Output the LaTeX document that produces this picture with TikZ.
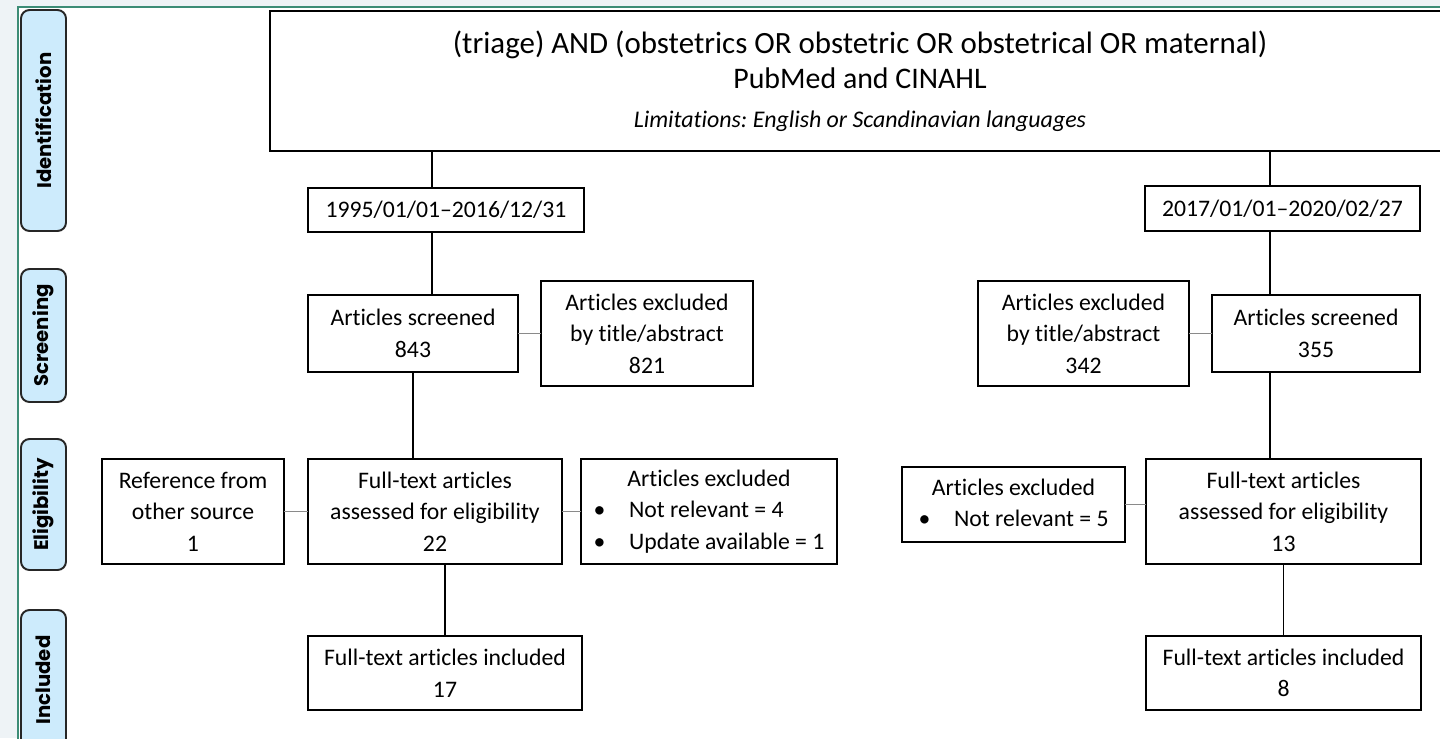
\documentclass[tikz,border=0pt]{standalone}
\usepackage{fontspec}
\setmainfont{Carlito}[Ligatures={TeX,NoCommon}]
\newfontfamily\stagefont{Poppins}
\usetikzlibrary{positioning,calc}
\definecolor{panelgray}{HTML}{EEF3F6}
\definecolor{stageblue}{HTML}{CDEBFC}
\definecolor{framegreen}{HTML}{3C8C76}
\definecolor{linkgray}{HTML}{8A8A8A}
\frenchspacing

\begin{document}
\begin{tikzpicture}[x=0.02cm,y=-0.02cm,outer sep=0pt,inner sep=2pt]
        \tikzset{record/.style={align=center,shape=rectangle,draw,line width=1.1pt,font=\fontsize{13.5}{18}\selectfont}}
        \tikzset{stage/.style={shape=rectangle,rounded corners=0.17cm,draw=black!85,fill=stageblue,line width=1.1pt,rotate=90,minimum height=0.9cm,font=\stagefont\bfseries\fontsize{11.2}{14}\selectfont}}
        \tikzset{trunk/.style={draw,line width=1.1pt}}
        \tikzset{branch/.style={draw=linkgray,line width=1.1pt}}

        \useasboundingbox (0,0) rectangle (1440,738);
        \clip (0,0) rectangle (1440,738);
        \fill[panelgray] (0,0) rectangle (1440,738);
        \fill[white] (18,7) rectangle (1440,738);
        \draw[framegreen,line width=1.2pt] (18,745) -- (18,7) -- (1445,7);

        % stages
        \node [stage,minimum width=4.42cm] (ident) at (43.5,120.5) {Identification};
        \node [stage,minimum width=2.66cm] (screen) at (43.5,335.5) {Screening};
        \node [stage,minimum width=2.62cm] (elig) at (43.5,504.5) {Eligibility};
        \node [stage,minimum width=2.8cm] (incl) at (43.5,680) {Included};

        % search
        \node [record,minimum width=23.6cm,minimum height=2.8cm] (search) at (860,81)
            {{\fontsize{17.6}{21}\selectfont (triage) AND (obstetrics OR obstetric OR obstetrical OR maternal)}\\[2pt]
             {\fontsize{17}{23}\selectfont PubMed and CINAHL}\\[4pt]
             {\fontsize{13.6}{22}\selectfont\itshape Limitations: English or Scandinavian languages}};
        \coordinate (leftrun) at (432,0);
        \coordinate (rightrun) at (1270,0);

        % 1995--2016
        \node [record,minimum width=5.52cm,minimum height=0.88cm] (older) at (446,210) {1995/01/01--2016/12/31};
        \node [record,minimum width=4.2cm,minimum height=1.54cm] (screenedA) at (413,333.5) {Articles screened\\843};
        \node [record,minimum width=4.24cm,minimum height=2.1cm] (titleA) at (647,333.5) {Articles excluded\\by title/abstract\\821};
        \node [record,minimum width=3.64cm,minimum height=2.1cm] (otherref) at (193,511.5) {Reference from\\other source\\1};
        \node [record,minimum width=5.08cm,minimum height=2.1cm] (fulltextA) at (435,511.5) {Full-text articles\\assessed for eligibility\\22};
        \node [record,minimum width=5.12cm,minimum height=2.1cm] (droppedA) at (709,511.5)
            {\begin{tabular}{@{}l@{\hspace{1em}}l@{}}
             \multicolumn{2}{c}{Articles excluded}\\
             \textbullet & Not relevant = 4\\
             \textbullet & Update available = 1
             \end{tabular}};
        \node [record,minimum width=5.48cm,minimum height=1.48cm] (includedA) at (445,673) {Full-text articles included\\17};

        % 2017--2020
        \node [record,minimum width=5.5cm,minimum height=0.9cm] (newer) at (1282.5,208.5) {2017/01/01--2020/02/27};
        \node [record,minimum width=4.16cm,minimum height=1.54cm] (screenedB) at (1316,333.5) {Articles screened\\355};
        \node [record,minimum width=4.22cm,minimum height=2.1cm] (titleB) at (1083.5,333.5) {Articles excluded\\by title/abstract\\342};
        \node [record,minimum width=5.5cm,minimum height=2.1cm] (fulltextB) at (1283.5,511.5) {Full-text articles\\assessed for eligibility\\13};
        \node [record,minimum width=4.46cm,minimum height=1.5cm] (droppedB) at (1013.5,504.5)
            {\begin{tabular}{@{}l@{\hspace{1em}}l@{}}
             \multicolumn{2}{c}{Articles excluded}\\
             \textbullet & Not relevant = 5
             \end{tabular}};
        \node [record,minimum width=5.5cm,minimum height=1.48cm] (includedB) at (1283.5,673) {Full-text articles included\\8};

        % links
        \path [trunk] (search.south -| leftrun) -- (older.north -| leftrun);
        \path [trunk] (older.south -| leftrun) -- (screenedA.north -| leftrun);
        \path [trunk] (screenedA.south) -- (screenedA.south |- fulltextA.north);
        \path [trunk] (includedA.north |- fulltextA.south) -- (includedA.north);
        \path [branch] (screenedA.east) -- (titleA.west);
        \path [branch] (otherref.east) -- (fulltextA.west);
        \path [branch] (fulltextA.east) -- (droppedA.west);

        \path [trunk] (search.south -| rightrun) -- (newer.north -| rightrun);
        \path [trunk] (newer.south -| rightrun) -- (screenedB.north -| rightrun);
        \path [trunk] (screenedB.south -| rightrun) -- (fulltextB.north -| rightrun);
        \path [trunk] (fulltextB.south) -- (includedB.north);
        \path [branch] (screenedB.west) -- (titleB.east);
        \path [branch] (droppedB.east) -- (droppedB.east -| fulltextB.west);
\end{tikzpicture}
\end{document}
